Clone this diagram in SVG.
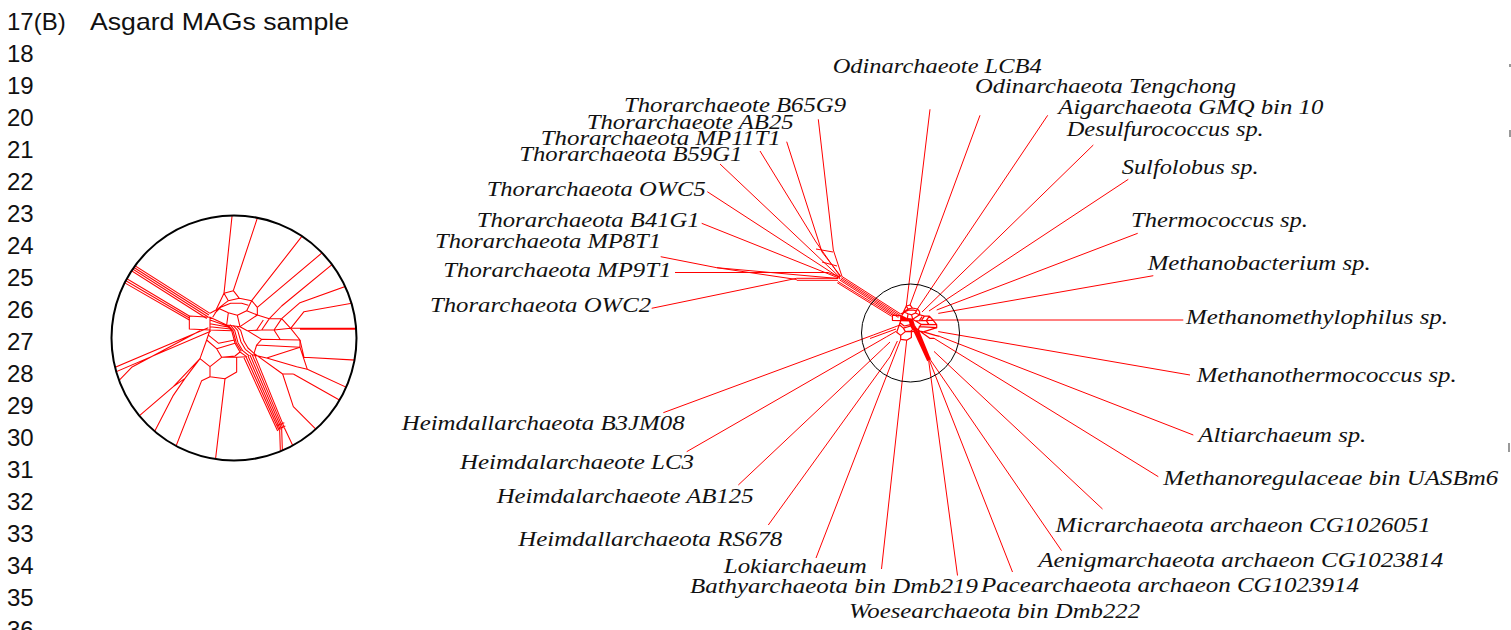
<svg xmlns="http://www.w3.org/2000/svg" width="1511" height="630" viewBox="0 0 1511 630">
<style>
.num{font-family:"Liberation Sans",Arial,sans-serif;font-size:24px;fill:#111}
.lab{font-family:"Liberation Serif","Times New Roman",serif;font-style:italic;font-size:22px;fill:#111}
.red{fill:none;stroke:#ff0000;stroke-linejoin:round}
.ring{fill:none;stroke:#000}
</style>
<defs>
<clipPath id="cl"><circle cx="234" cy="338" r="122"/></clipPath>
<g id="core" class="red">
<path d="M330,250 L348,240 L372,190 L400,182 L418,205 L455,212 L472,232 M338,262 L355,235 L385,212 L418,205 M372,190 L385,212 M355,235 L385,248 L412,256 L440,242 L455,212 M440,242 L472,255 L472,232 M385,248 L380,285 M412,256 L420,290 M344,250 L362,232 L392,220 L425,220 L445,226"/>
<path d="M268,258 L330,262 L330,300 L268,297 Z M330,262 L380,285 L420,290 L472,255 M330,300 L395,302 M330,281 L388,292 M330,270 L384,289 M330,290 L392,297"/>
<path d="M472,255 L508,266 L545,266 L572,295 L600,330 L485,328 L442,302 L420,290 M508,266 L485,300 L442,302 M545,266 L522,300 L485,300 M572,295 L522,300 L540,328 M485,328 L470,345 L600,352 L600,330 M470,345 L462,370 M490,270 L470,300"/>
<path d="M380,285 L395,302 L405,340 L420,366 L440,380 M390,284 L404,301 L414,338 L428,362 L448,378 M400,287 L413,301 L423,336 L436,358 L456,374 M410,289 L422,301 L432,334 L444,354 L462,370 M385,286 L399,302 L409,339 L424,364"/>
<path d="M330,300 L320,330 L350,356 L365,382 L405,378 L420,366 M350,356 L405,340 M320,330 L300,386 L330,410 L330,440 L375,446 L410,426 L410,382 L365,382 M330,410 L365,382 M410,382 L440,380 M326,316 L356,340 L404,330"/>
<path d="M432,383 L533,603 M438,380.4 L537,601 M444,377.8 L541,599 M450,375.2 L545,597 M456,372.6 L549,595 M462,370 L553,593 M531,586 L553,578 M536,596 L556,588 M462,370 L548,432 L580,432 M456,374 L500,384 L600,352 M500,384 L590,410 L622,418"/>
</g>
</defs>
<rect width="1511" height="630" fill="#fff"/>

<g id="line-numbers">
<text class="num" x="7" y="30">17(B)</text>
<text class="num" x="90" y="30" textLength="259" lengthAdjust="spacingAndGlyphs">Asgard MAGs sample</text>
<text class="num" x="7" y="62">18</text>
<text class="num" x="7" y="94">19</text>
<text class="num" x="7" y="126">20</text>
<text class="num" x="7" y="158">21</text>
<text class="num" x="7" y="190">22</text>
<text class="num" x="7" y="222">23</text>
<text class="num" x="7" y="254">24</text>
<text class="num" x="7" y="286">25</text>
<text class="num" x="7" y="318">26</text>
<text class="num" x="7" y="350">27</text>
<text class="num" x="7" y="382">28</text>
<text class="num" x="7" y="414">29</text>
<text class="num" x="7" y="446">30</text>
<text class="num" x="7" y="478">31</text>
<text class="num" x="7" y="510">32</text>
<text class="num" x="7" y="542">33</text>
<text class="num" x="7" y="574">34</text>
<text class="num" x="7" y="606">35</text>
<text class="num" x="7" y="638">36</text>
</g>

<g id="zoom-view">
<g clip-path="url(#cl)">
<g transform="translate(100,230) scale(0.33333)" stroke-width="3.2">
<use href="#core"/>
<path class="red" d="M372,190 L398,-60 M400,182 L480,-60 M455,212 L640,-25 M472,232 L700,40 M508,266 L545,228 L725,80 M545,266 L600,218 L790,150 M572,295 L612,245 L800,212 M572,295 L800,295 M600,298 L800,298 M600,330 L612,382 L800,392 M600,352 L622,418 L800,500 M580,432 L780,545 M548,432 L580,530 L720,670 M553,593 L580,650 L610,700 M545,597 L549,720 M539,600 L543,720"/>
<path class="red" d="M375,446 L338,760 M330,440 L305,452 L200,720 M300,386 L255,445 L220,496 L130,670 M300,386 L220,470 L80,590 M220,470 L255,445 M300,302 L95,412 L20,490 M325,293 L10,427 M332,304 L14,440"/>
<path class="red" d="M330,250 L40,66 M326.8,255.1 L36.8,71.1 M323.6,260.2 L33.6,76.2 M320.4,265.3 L30.4,81.3 M268,258 L20,110 M268,264 L18,117.5 M268,270 L16,125"/>
</g>
</g>
<circle class="ring" cx="234" cy="338" r="122.5" stroke-width="2"/>
</g>

<g id="connectors" class="red" stroke-width="1">
<use href="#core" transform="translate(856.7,280.7) scale(0.13333)" stroke-width="9"/>
<path d="M900.7,314 L842,276.5 M899.9,315.2 L841.2,277.7 M899.2,316.4 L840.5,278.9 M898.4,317.5 L839.7,280 M892.4,315.1 L838,281.5 M891.6,316.3 L837.2,282.7"/>
<path d="M818.3,119.3 L833.3,250 L842,276.5 M786.7,141.7 L822,252 L841,276.5 M760,151 L816,242 L840.5,277 M720,164 L840,277.5 M707.3,191.7 L840,278 M701.7,223.3 L840,278.5 M816,249 L833,252 M822,262 L837,266"/>
<path d="M660.7,256.7 L716.7,267.7 L838,278.5 M716.7,267.7 L796.7,279.5 M675,272.5 L828,272.5 L840,277 M651.7,308.3 L796.7,278.3 L838,278.3 M796.7,280.3 L838,280.3"/>
<path d="M663.3,412.7 L873.3,335 L900,325 M870,338.5 L896,329 M686.7,451.7 L886.7,336.7 L896,331.4 M738.3,485 L883.3,348.3 L890,342 M768.3,525 L890,356.7 L897.4,341 M816,558 L900.7,339.4 M881.5,569 L906.7,340.2"/>
<path d="M930,109.3 L906.3,306 M980,115.3 L910,305 M1047.7,115.3 L917.4,309 M1093.3,145 L922,312 M1128.3,179.3 L929,311 M1137.7,233.3 L936.7,310 M1153.3,275.7 L938.3,313.4 M1183.3,320 L932.7,320 M1190,375 L938.3,331.6 M1193.3,435 L939.6,336.4 M1158.3,476.7 L934,338.3"/>
<path d="M1102.5,509 L934,351.4 M1061.5,550.6 L930.4,359.9 M1012.5,572 L929.4,360.4 M957.5,575.5 L928.7,360.7"/>
</g>
<circle class="ring" cx="910.5" cy="333" r="49" stroke-width="1"/>

<g id="n-thor-b65g9"><text class="lab" x="624" y="111.7" textLength="222" lengthAdjust="spacingAndGlyphs">Thorarchaeote B65G9</text></g>
<g id="n-thor-ab25"><text class="lab" x="586.7" y="129.3" textLength="207" lengthAdjust="spacingAndGlyphs">Thorarchaeote AB25</text></g>
<g id="n-thor-mp11t1"><text class="lab" x="540.7" y="145" textLength="240" lengthAdjust="spacingAndGlyphs">Thorarchaeota MP11T1</text></g>
<g id="n-thor-b59g1"><text class="lab" x="519.3" y="161" textLength="223" lengthAdjust="spacingAndGlyphs">Thorarchaeota B59G1</text></g>
<g id="n-thor-owc5"><text class="lab" x="486.7" y="196" textLength="219" lengthAdjust="spacingAndGlyphs">Thorarchaeota OWC5</text></g>
<g id="n-thor-b41g1"><text class="lab" x="476.7" y="226.7" textLength="223" lengthAdjust="spacingAndGlyphs">Thorarchaeota B41G1</text></g>
<g id="n-thor-mp8t1"><text class="lab" x="435" y="248.3" textLength="226" lengthAdjust="spacingAndGlyphs">Thorarchaeota MP8T1</text></g>
<g id="n-thor-mp9t1"><text class="lab" x="443.3" y="277.3" textLength="228" lengthAdjust="spacingAndGlyphs">Thorarchaeota MP9T1</text></g>
<g id="n-thor-owc2"><text class="lab" x="430" y="311.7" textLength="221" lengthAdjust="spacingAndGlyphs">Thorarchaeota OWC2</text></g>

<g id="n-odin-lcb4"><text class="lab" x="832.7" y="73.3" textLength="209" lengthAdjust="spacingAndGlyphs">Odinarchaeote LCB4</text></g>
<g id="n-odin-teng"><text class="lab" x="975" y="93.3" textLength="261" lengthAdjust="spacingAndGlyphs">Odinarchaeota Tengchong</text></g>
<g id="n-aigar"><text class="lab" x="1058.3" y="114.3" textLength="265" lengthAdjust="spacingAndGlyphs">Aigarchaeota GMQ bin 10</text></g>
<g id="n-desulf"><text class="lab" x="1066.7" y="136" textLength="197" lengthAdjust="spacingAndGlyphs">Desulfurococcus sp.</text></g>
<g id="n-sulfo"><text class="lab" x="1121.7" y="174" textLength="137" lengthAdjust="spacingAndGlyphs">Sulfolobus sp.</text></g>
<g id="n-thermo"><text class="lab" x="1131" y="226.7" textLength="177" lengthAdjust="spacingAndGlyphs">Thermococcus sp.</text></g>
<g id="n-mbact"><text class="lab" x="1147.7" y="270" textLength="223" lengthAdjust="spacingAndGlyphs">Methanobacterium sp.</text></g>
<g id="n-mmethyl"><text class="lab" x="1186" y="324" textLength="262" lengthAdjust="spacingAndGlyphs">Methanomethylophilus sp.</text></g>
<g id="n-mthermo"><text class="lab" x="1196.7" y="381.7" textLength="260" lengthAdjust="spacingAndGlyphs">Methanothermococcus sp.</text></g>
<g id="n-alti"><text class="lab" x="1198.3" y="442.3" textLength="168" lengthAdjust="spacingAndGlyphs">Altiarchaeum sp.</text></g>
<g id="n-mreg"><text class="lab" x="1163.3" y="485" textLength="335" lengthAdjust="spacingAndGlyphs">Methanoregulaceae bin UASBm6</text></g>
<g id="n-micr"><text class="lab" x="1055.6" y="531.7" textLength="375" lengthAdjust="spacingAndGlyphs">Micrarchaeota archaeon CG1026051</text></g>
<g id="n-aenig"><text class="lab" x="1038.2" y="566.7" textLength="405" lengthAdjust="spacingAndGlyphs">Aenigmarchaeota archaeon CG1023814</text></g>
<g id="n-pace"><text class="lab" x="981" y="591.7" textLength="378" lengthAdjust="spacingAndGlyphs">Pacearchaeota archaeon CG1023914</text></g>
<g id="n-woese"><text class="lab" x="849" y="618.3" textLength="291" lengthAdjust="spacingAndGlyphs">Woesearchaeota bin Dmb222</text></g>
<g id="n-bathy"><text class="lab" x="690" y="592.7" textLength="288" lengthAdjust="spacingAndGlyphs">Bathyarchaeota bin Dmb219</text></g>
<g id="n-loki"><text class="lab" x="723.8" y="572.7" textLength="143" lengthAdjust="spacingAndGlyphs">Lokiarchaeum</text></g>
<g id="n-heim-rs678"><text class="lab" x="518.3" y="546" textLength="264" lengthAdjust="spacingAndGlyphs">Heimdallarchaeota RS678</text></g>
<g id="n-heim-ab125"><text class="lab" x="496.7" y="503.3" textLength="257" lengthAdjust="spacingAndGlyphs">Heimdalarchaeote AB125</text></g>
<g id="n-heim-lc3"><text class="lab" x="460" y="469.3" textLength="234" lengthAdjust="spacingAndGlyphs">Heimdalarchaeote LC3</text></g>
<g id="n-heim-b3jm08"><text class="lab" x="401.7" y="430" textLength="283" lengthAdjust="spacingAndGlyphs">Heimdallarchaeota B3JM08</text></g>

<g id="edge-marks" fill="#999">
<rect x="1509" y="64" width="2" height="3"/>
<rect x="1509" y="130" width="2" height="7"/>
<rect x="1508" y="443" width="2" height="9"/>
</g>
</svg>
